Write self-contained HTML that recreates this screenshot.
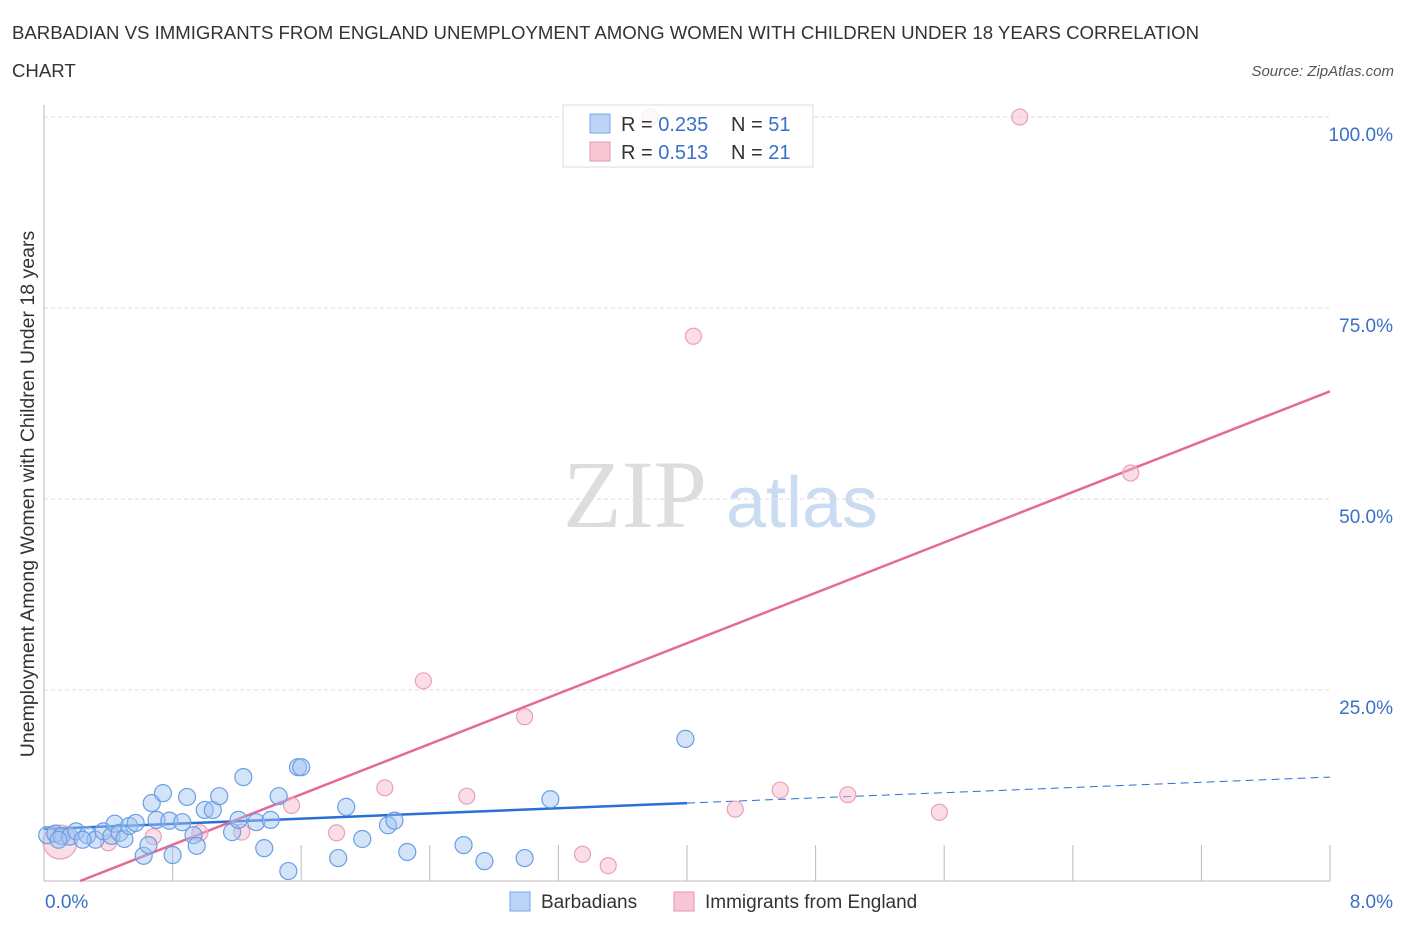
<!DOCTYPE html>
<html><head><meta charset="utf-8"><style>
body{margin:0;background:#fff;font-family:"Liberation Sans",sans-serif;}
</style></head><body>
<svg width="1406" height="930" xmlns="http://www.w3.org/2000/svg" font-family="Liberation Sans, sans-serif">
<text x="12" y="39" font-size="18.6" fill="#333">BARBADIAN VS IMMIGRANTS FROM ENGLAND UNEMPLOYMENT AMONG WOMEN WITH CHILDREN UNDER 18 YEARS CORRELATION</text>
<text x="12" y="77" font-size="18.6" fill="#333">CHART</text>
<text x="1394" y="76" font-size="15" fill="#555" font-style="italic" text-anchor="end">Source: ZipAtlas.com</text>
<g>
<text x="635" y="527" font-size="96" font-family="Liberation Serif, serif" fill="#ddd" text-anchor="middle">ZIP</text>
<text x="802" y="527" font-size="72" fill="#c9dcf2" text-anchor="middle">atlas</text>
</g>
<g id="grid"></g>
<g id="axes"></g>
<g id="lines"></g>
<g id="pts"></g>
<text transform="translate(34,494) rotate(-90)" font-size="19.5" fill="#333" text-anchor="middle">Unemployment Among Women with Children Under 18 years</text>
<g>
<rect x="563" y="105" width="250" height="62" fill="rgba(255,255,255,0.8)" stroke="#ddd"/>
<rect x="590" y="114" width="20" height="19" fill="#bcd4f6" stroke="#7aa6e6"/>
<rect x="590" y="142" width="20" height="19" fill="#f9c6d6" stroke="#e996b0"/>
<text x="621" y="131" font-size="20" fill="#333">R = <tspan fill="#3a70c8">0.235</tspan></text>
<text x="731" y="131" font-size="20" fill="#333">N = <tspan fill="#3a70c8">51</tspan></text>
<text x="621" y="159" font-size="20" fill="#333">R = <tspan fill="#3a70c8"> 0.513</tspan></text>
<text x="731" y="159" font-size="20" fill="#333">N = <tspan fill="#3a70c8">21</tspan></text>
</g>
<g>
<rect x="510" y="892" width="20" height="19" fill="#bcd4f6" stroke="#7aa6e6"/>
<text x="541" y="908" font-size="19" fill="#333">Barbadians</text>
<rect x="674" y="892" width="20" height="19" fill="#f9c6d6" stroke="#e996b0"/>
<text x="705" y="908" font-size="19" fill="#333">Immigrants from England</text>
</g>
</svg>
<script>
const blueX=[0.02,0.07,0.11,0.16,0.20,0.27,0.32,0.37,0.42,0.44,0.47,0.50,0.53,0.57,0.62,0.65,0.67,0.70,0.74,0.78,0.80,0.86,0.89,0.93,0.95,1.00,1.05,1.09,1.17,1.21,1.24,1.32,1.37,1.41,1.46,1.52,1.58,1.60,1.83,1.88,1.98,2.14,2.18,2.26,2.61,2.74,2.99,3.15,3.99,0.09,0.24];
const blueY=[6.0,6.2,5.9,5.8,6.5,6.0,5.4,6.5,5.9,7.5,6.3,5.5,7.2,7.6,3.3,4.7,10.2,8.0,11.5,7.9,3.4,7.7,11.0,6.0,4.6,9.3,9.3,11.1,6.4,8.0,13.6,7.7,4.3,8.0,11.1,1.3,14.9,14.9,3.0,9.7,5.5,7.3,7.9,3.8,4.7,2.6,3.0,10.7,18.6,5.4,5.4];
const pinkX=[0.10,0.40,0.68,0.97,1.23,1.54,1.82,2.12,2.36,2.63,2.99,3.35,3.51,3.77,4.04,4.30,4.58,5.00,5.57,6.07,6.76];
const pinkY=[5.1,5.0,5.8,6.3,6.4,9.9,6.3,12.2,26.2,11.1,21.5,3.5,2.0,100,71.3,9.4,11.9,11.3,9.0,100,53.4];
const yTicks=[25,50,75,100];
const yTickLabels=["25.0%","50.0%","75.0%","100.0%"];
const xTicks=[0.8,1.6,2.4,3.2,4.0,4.8,5.6,6.4,7.2,8.0];
const blueFit=[6.8,13.6];
const pinkFit=[-1.85,64.1];
const NS="http://www.w3.org/2000/svg";
const X=v=>44+v*160.75, Y=v=>881-v*7.64;
function mk(p,t,a){const e=document.createElementNS(NS,t);for(const k in a)e.setAttribute(k,a[k]);document.getElementById(p).appendChild(e);return e;}
yTicks.forEach((t,i)=>{
 const l=mk('grid','line',{x1:44,x2:1330,y1:Y(t),y2:Y(t),stroke:'#ddd','stroke-dasharray':'4,3'});
 
 
 const tx=mk('grid','text',{x:1393,y:Y(t)+24,'font-size':19,fill:'#3a70c8','text-anchor':'end'});
 tx.textContent=yTickLabels[i];
 
 
});
let a=mk('axes','line',{x1:44,x2:44,y1:105,y2:881,stroke:'#bbb'});


a=mk('axes','line',{x1:44,x2:1330,y1:881,y2:881,stroke:'#bbb'});


xTicks.forEach(t=>{const l=mk('axes','line',{x1:X(t),x2:X(t),y1:845,y2:881,stroke:'#bbb'});
 
 });
let t0=mk('axes','text',{x:45,y:908,'font-size':19,fill:'#3a70c8'});t0.textContent='0.0%';


let t1=mk('axes','text',{x:1393,y:908,'font-size':19,fill:'#3a70c8','text-anchor':'end'});t1.textContent='8.0%';


pinkX.forEach((x,i)=>{const c=mk('pts','circle',{cx:X(x),cy:Y(pinkY[i]),r:i===0?17:8,fill:'rgba(247,180,202,0.45)',stroke:'#eba0b8','stroke-width':1.2});
 
 });
blueX.forEach((x,i)=>{const c=mk('pts','circle',{cx:X(x),cy:Y(blueY[i]),r:8.5,fill:'rgba(160,196,240,0.45)',stroke:'#6a9ee6','stroke-width':1.2});
 
 });
const bAt=x=>blueFit[0]+(blueFit[1]-blueFit[0])*x/8;
let l=mk('lines','line',{x1:X(0),y1:Y(bAt(0)),x2:X(4),y2:Y(bAt(4)),stroke:'#2a6fd6','stroke-width':2.5});


l=mk('lines','line',{x1:X(4),y1:Y(bAt(4)),x2:X(8),y2:Y(bAt(8)),stroke:'#2a6fd6','stroke-width':1,'stroke-dasharray':'8,5'});


const pAt=x=>pinkFit[0]+(pinkFit[1]-pinkFit[0])*x/8;
const x0=-pinkFit[0]/((pinkFit[1]-pinkFit[0])/8);
l=mk('lines','line',{x1:X(x0),y1:Y(0),x2:X(8),y2:Y(pAt(8)),stroke:'#e46a93','stroke-width':2.5});


</script>
</body></html>
